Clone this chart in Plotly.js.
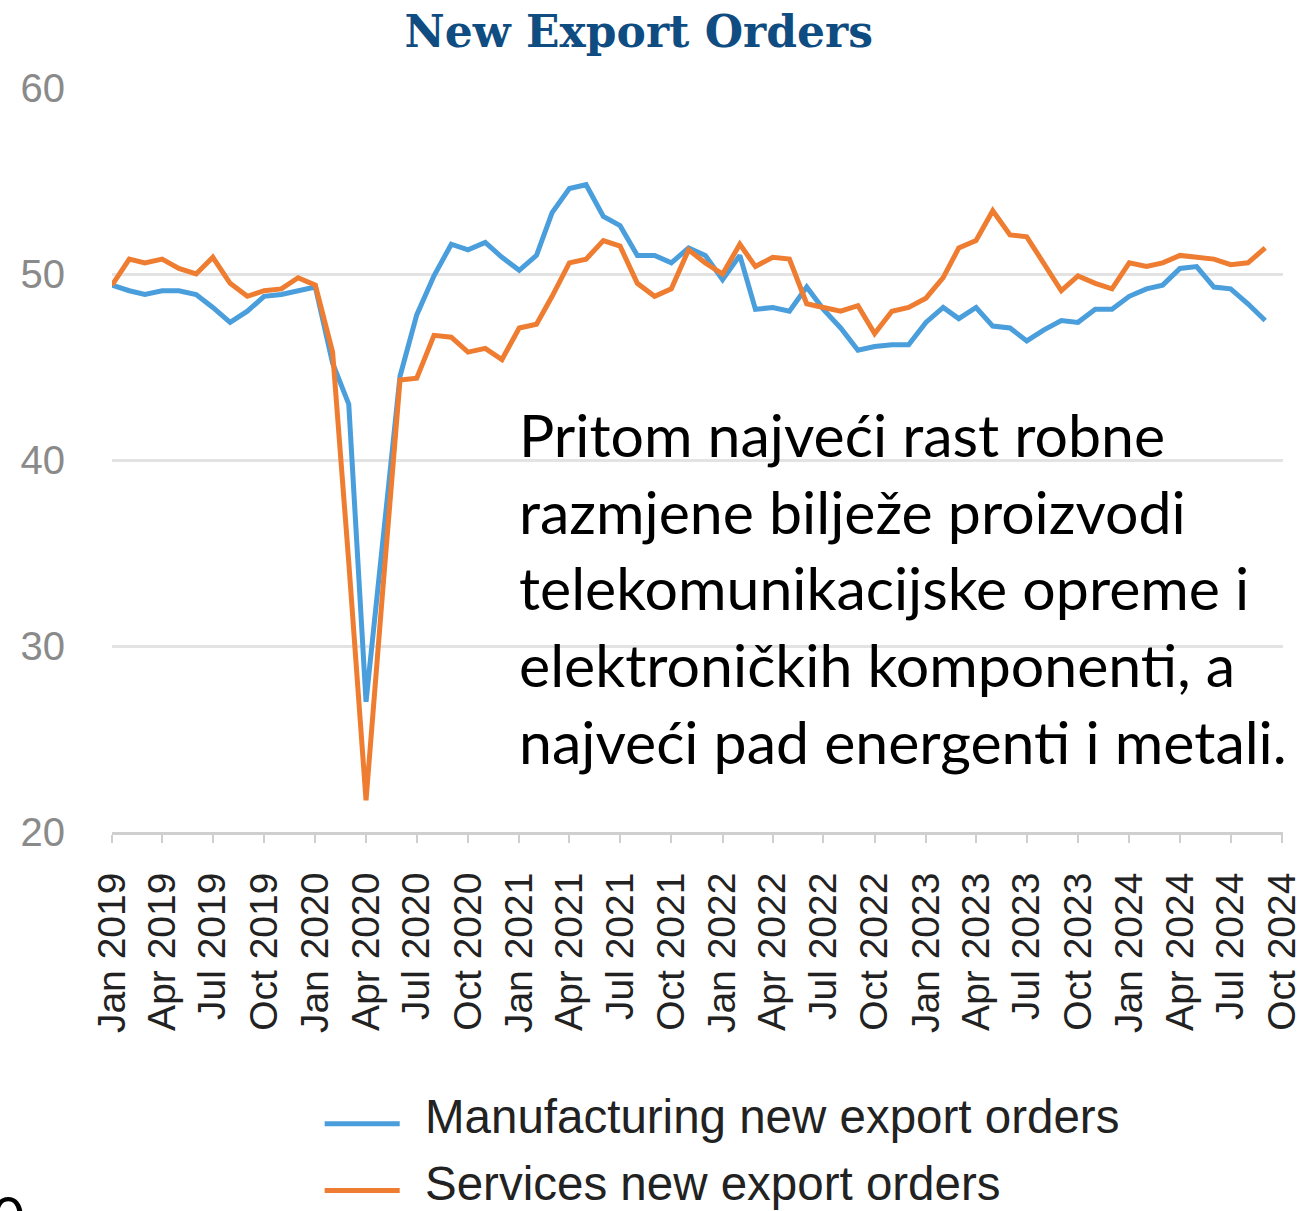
<!DOCTYPE html>
<html>
<head>
<meta charset="utf-8">
<script src="https://cdn.plot.ly/plotly-3.0.1.min.js"></script>
<style>html,body{margin:0;padding:0;background:#fff;}#chart{width:1301px;height:1211px;}</style>
</head>
<body>
<div id="chart"></div>
<script>
const months = ["2019-01-01","2019-02-01","2019-03-01","2019-04-01","2019-05-01","2019-06-01","2019-07-01","2019-08-01","2019-09-01","2019-10-01","2019-11-01","2019-12-01",
"2020-01-01","2020-02-01","2020-03-01","2020-04-01","2020-05-01","2020-06-01","2020-07-01","2020-08-01","2020-09-01","2020-10-01","2020-11-01","2020-12-01",
"2021-01-01","2021-02-01","2021-03-01","2021-04-01","2021-05-01","2021-06-01","2021-07-01","2021-08-01","2021-09-01","2021-10-01","2021-11-01","2021-12-01",
"2022-01-01","2022-02-01","2022-03-01","2022-04-01","2022-05-01","2022-06-01","2022-07-01","2022-08-01","2022-09-01","2022-10-01","2022-11-01","2022-12-01",
"2023-01-01","2023-02-01","2023-03-01","2023-04-01","2023-05-01","2023-06-01","2023-07-01","2023-08-01","2023-09-01","2023-10-01","2023-11-01","2023-12-01",
"2024-01-01","2024-02-01","2024-03-01","2024-04-01","2024-05-01","2024-06-01","2024-07-01","2024-08-01","2024-09-01"];

const manufacturing = [49.4,49.1,48.9,49.1,49.1,48.9,48.2,47.4,48.0,48.8,48.9,49.1,
49.3,45.2,43.0,27.0,35.7,44.5,47.8,49.9,51.6,51.3,51.7,50.9,
50.2,51.0,53.3,54.6,54.8,53.1,52.6,51.0,51.0,50.6,51.4,51.0,
49.7,51.0,48.1,48.2,48.0,49.3,48.1,47.1,45.9,46.1,46.2,46.2,
47.4,48.2,47.6,48.2,47.2,47.1,46.4,47.0,47.5,47.4,48.1,48.1,
48.8,49.2,49.4,50.3,50.4,49.3,49.2,48.4,47.5];

const services = [49.4,50.8,50.6,50.8,50.3,50.0,50.9,49.5,48.8,49.1,49.2,49.8,
49.4,45.8,34.5,21.7,33.0,44.3,44.4,46.7,46.6,45.8,46.0,45.4,
47.1,47.3,48.8,50.6,50.8,51.8,51.5,49.5,48.8,49.2,51.3,50.6,
50.0,51.6,50.4,50.9,50.8,48.4,48.2,48.0,48.3,46.8,48.0,48.2,
48.7,49.8,51.4,51.8,53.4,52.1,52.0,50.6,49.1,49.9,49.5,49.2,
50.6,50.4,50.6,51.0,50.9,50.8,50.5,50.6,51.4];

const tickMonths = ["2019-01-01","2019-04-01","2019-07-01","2019-10-01","2020-01-01","2020-04-01","2020-07-01","2020-10-01",
"2021-01-01","2021-04-01","2021-07-01","2021-10-01","2022-01-01","2022-04-01","2022-07-01","2022-10-01",
"2023-01-01","2023-04-01","2023-07-01","2023-10-01","2024-01-01","2024-04-01","2024-07-01","2024-10-01"];
const tickLabels = ["Jan 2019","Apr 2019","Jul 2019","Oct 2019","Jan 2020","Apr 2020","Jul 2020","Oct 2020",
"Jan 2021","Apr 2021","Jul 2021","Oct 2021","Jan 2022","Apr 2022","Jul 2022","Oct 2022",
"Jan 2023","Apr 2023","Jul 2023","Oct 2023","Jan 2024","Apr 2024","Jul 2024","Oct 2024"];

const seriesNames = ["Manufacturing new export orders","Services new export orders"];
const seriesColors = ["#4a9edb","#ee7d31"];
const yTicks = [20,30,40,50,60];
const chartTitle = "New Export Orders";
const noteLines = ["Pritom najveći rast robne","razmjene bilježe proizvodi","telekomunikacijske opreme i","elektroničkih komponenti, a","najveći pad energenti i metali."];

const traces = [
  {x: months, y: manufacturing, name: seriesNames[0], type: "scatter", mode: "lines",
   line: {color: seriesColors[0], width: 5}},
  {x: months, y: services, name: seriesNames[1], type: "scatter", mode: "lines",
   line: {color: seriesColors[1], width: 5}}
];

const legY = [-0.383, -0.473];
const shapes = [];
const annotations = [];
for (let k = 0; k < 2; k++) {
  shapes.push({type: "line", xref: "paper", yref: "paper", x0: 0.1816, x1: 0.2457, y0: legY[k] - 0.009, y1: legY[k] - 0.009,
    line: {color: seriesColors[k], width: 5}});
  annotations.push({xref: "paper", yref: "paper", x: 0.2658, y: legY[k], xanchor: "left", yanchor: "middle",
    text: seriesNames[k], showarrow: false, font: {family: "Liberation Sans, Arial, sans-serif", size: 47.5, color: "#222"}});
}
annotations.push({xref: "paper", yref: "paper", x: 0.348, xshift: -3, y: 0.585, xanchor: "left", yanchor: "top", align: "left",
  text: noteLines.join("<br>"), showarrow: false, font: {family: "Lato, sans-serif", size: 59, color: "#000"}});
annotations.push({xref: "paper", yref: "paper", x: -0.0956, xshift: -10, y: -0.468, xanchor: "left", yanchor: "top",
  text: "0", showarrow: false, font: {family: "Lato, sans-serif", size: 56, color: "#000"}});

const layout = {
  width: 1301, height: 1211,
  margin: {l: 112, r: 18, t: 88, b: 379},
  paper_bgcolor: "#fff", plot_bgcolor: "#fff",
  showlegend: false,
  title: {text: chartTitle, x: 0.491, xanchor: "center", y: 1 - 32/1211, yanchor: "middle",
    font: {family: "DejaVu Serif, serif", size: 44, color: "#0f4c81", weight: "bold"}},
  xaxis: {type: "date", range: ["2019-01-01","2024-10-03"], tickmode: "array", tickvals: tickMonths, ticktext: tickLabels,
    tickangle: -90, ticks: "outside", ticklen: 8, tickwidth: 2, tickcolor: "#cfcfcf",
    showline: true, linecolor: "#cfcfcf", linewidth: 3, showgrid: false, zeroline: false,
    ticklabelstandoff: 14, ticklabeloverflow: "allow",
    tickfont: {family: "Liberation Sans, Arial, sans-serif", size: 39, color: "#222"}},
  yaxis: {range: [20, 60], tickvals: yTicks, showgrid: true, gridcolor: "#e3e3e3", gridwidth: 3,
    zeroline: false, showline: false, ticks: "", ticklabelstandoff: 46,
    tickfont: {family: "Liberation Sans, Arial, sans-serif", size: 40, color: "#8a8a8a"}},
  shapes: shapes,
  annotations: annotations
};

Plotly.newPlot("chart", traces, layout, {displayModeBar: false, staticPlot: true});
</script>
</body>
</html>
